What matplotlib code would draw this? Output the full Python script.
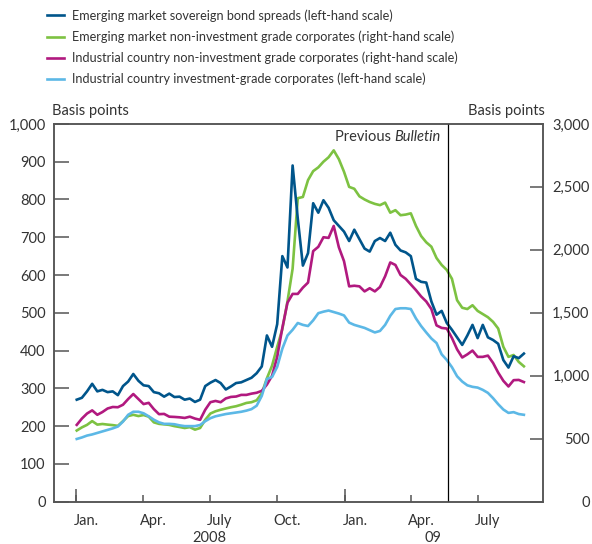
import numpy as np
import pandas as pd
import matplotlib
matplotlib.use("Agg")
import matplotlib.pyplot as plt
import matplotlib.dates as mdates
from matplotlib.ticker import FuncFormatter, MultipleLocator

plt.rcParams['font.family'] = ['Lato', 'DejaVu Sans']

# weekly observations, 2 Jan 2008 to 2 Sep 2009
dates = pd.date_range('2008-01-02', periods=88, freq='7D')

em_sovereign = [  # left-hand scale
    270, 275, 292, 312, 292, 296, 290, 292, 282, 306, 318, 338, 320, 308, 306, 290,
    287, 278, 286, 277, 278, 270, 273, 264, 270, 306, 315, 322, 314, 297, 305, 314,
    316, 322, 328, 340, 358, 440, 410, 470, 650, 620, 890, 750, 625, 658, 790, 765,
    798, 778, 745, 730, 715, 690, 720, 695, 670, 662, 690, 698, 690, 712, 680, 665,
    660, 650, 590, 582, 580, 530, 495, 505, 473, 455, 435, 415, 440, 468, 433, 468,
    435, 428, 418, 375, 355, 385, 380, 392]
em_nonig = [  # right-hand scale
    565, 590, 610, 640, 612, 617, 612, 608, 602, 640, 680, 690, 680, 688, 675, 630,
    618, 614, 610, 600, 593, 585, 592, 572, 585, 650, 700, 718, 730, 740, 750, 758,
    770, 784, 790, 805, 860, 980, 1080, 1230, 1370, 1590, 1850, 2410, 2420, 2554, 2625, 2655,
    2700, 2735, 2790, 2720, 2620, 2500, 2485, 2425, 2400, 2380, 2365, 2355, 2375, 2295, 2315, 2275,
    2280, 2290, 2190, 2110, 2060, 2025, 1935, 1880, 1840, 1770, 1600, 1540, 1530, 1560, 1515, 1490,
    1465, 1428, 1375, 1230, 1150, 1165, 1110, 1075]
ind_nonig = [  # right-hand scale
    610, 660, 700, 725, 690, 712, 740, 752, 750, 770, 815, 855, 815, 775, 785, 735,
    695, 697, 675, 673, 670, 665, 675, 660, 650, 730, 790, 800, 790, 820, 832, 835,
    848, 848, 858, 865, 880, 930, 1000, 1150, 1380, 1580, 1650, 1650, 1700, 1740, 1990, 2024,
    2100, 2095, 2190, 2020, 1910, 1710, 1715, 1710, 1670, 1695, 1670, 1705, 1790, 1900, 1880, 1800,
    1770, 1725, 1680, 1630, 1590, 1530, 1400, 1380, 1375, 1300, 1210, 1145, 1170, 1200, 1150, 1150,
    1160, 1102, 1025, 960, 915, 965, 967, 950]
ind_ig = [  # left-hand scale
    166, 170, 175, 178, 182, 186, 190, 194, 199, 212, 230, 238, 238, 234, 226, 217,
    210, 206, 206, 205, 202, 200, 200, 200, 203, 213, 221, 226, 229, 232, 234, 236,
    238, 241, 245, 254, 280, 325, 330, 357, 405, 440, 455, 473, 468, 465, 480, 499,
    503, 506, 502, 498, 493, 474, 468, 464, 460, 454, 448, 452, 468, 492, 510, 512,
    512, 510, 485, 465, 448, 432, 420, 390, 375, 356, 332, 318, 308, 304, 302, 296,
    288, 274, 258, 244, 235, 237, 232, 230]

labels = ['Emerging market sovereign bond spreads (left-hand scale)',
          'Emerging market non-investment grade corporates (right-hand scale)',
          'Industrial country non-investment grade corporates (right-hand scale)',
          'Industrial country investment-grade corporates (left-hand scale)']
colors = ['#00558B', '#7DC242', '#B1197F', '#5CB8E6']
prev_bulletin = pd.Timestamp('2009-05-22')

txt = '#333333'
spine = '#555555'
fs = 10.5

fig = plt.figure(figsize=(5.92, 5.44), dpi=100)
ax = fig.add_axes([0.0912, 0.0778, 0.8260, 0.6944])
ax2 = ax.twinx()
ax.set_zorder(ax2.get_zorder() + 1)
ax.patch.set_visible(False)

lw = 1.9
l_green, = ax2.plot(dates, em_nonig, color=colors[1], lw=lw)
l_mag, = ax2.plot(dates, ind_nonig, color=colors[2], lw=lw)
l_blue, = ax.plot(dates, em_sovereign, color=colors[0], lw=lw)
l_light, = ax.plot(dates, ind_ig, color=colors[3], lw=lw)
ax.axvline(prev_bulletin, color='black', lw=0.9)

ax.set_xlim(pd.Timestamp('2007-12-02'), pd.Timestamp('2009-09-28'))
ax.set_ylim(0, 1000)
ax2.set_ylim(0, 3000)

fmt = FuncFormatter(lambda v, p: f'{v:,.0f}')
ax.yaxis.set_major_locator(MultipleLocator(100))
ax.yaxis.set_major_formatter(fmt)
ax2.yaxis.set_major_locator(MultipleLocator(500))
ax2.yaxis.set_major_formatter(fmt)

for a in (ax, ax2):
    for s in a.spines.values():
        s.set_color(spine)
        s.set_linewidth(1.1)

ax.tick_params(axis='y', direction='in', length=11, width=1.1, color=spine,
               labelsize=fs, labelcolor=txt, pad=6)
ax2.tick_params(axis='y', direction='in', length=9.5, width=1.1, color=spine,
                labelsize=fs, labelcolor=txt, pad=33.5)
for lab in ax2.get_yticklabels():
    lab.set_horizontalalignment('right')

# quarter ticks (short), labels at mid-month, Jan ticks long
ax.xaxis.set_minor_locator(mdates.MonthLocator(bymonth=[1, 4, 7, 10], bymonthday=1))
ax.xaxis.set_major_locator(mdates.MonthLocator(bymonth=[1, 4, 7, 10], bymonthday=15))
ax.xaxis.set_major_formatter(FuncFormatter(
    lambda v, p: {1: 'Jan.', 4: 'Apr.', 7: 'July', 10: 'Oct.'}[mdates.num2date(v).month]))
ax.tick_params(axis='x', which='major', length=0, labelsize=fs, labelcolor=txt, pad=9)
ax.tick_params(axis='x', which='minor', direction='in', length=5, width=1.1, color=spine)
sec = ax.secondary_xaxis('bottom')
sec.set_xticks(mdates.date2num([pd.Timestamp('2008-01-01'), pd.Timestamp('2009-01-01')]))
sec.tick_params(direction='in', length=9.5, width=1.1, color=spine, labelbottom=False)
sec.spines['bottom'].set_visible(False)

ax.text(pd.Timestamp('2008-07-01'), -0.096, '2008', transform=ax.get_xaxis_transform(),
        ha='center', va='center', fontsize=fs, color=txt)
ax.text(pd.Timestamp('2009-05-01'), -0.096, '09', transform=ax.get_xaxis_transform(),
        ha='center', va='center', fontsize=fs, color=txt)

ax.text(-0.005, 1.015, 'Basis points', transform=ax.transAxes, ha='left', va='bottom',
        fontsize=fs, color=txt)
ax2.text(1.004, 1.015, 'Basis points', transform=ax.transAxes, ha='right', va='bottom',
         fontsize=fs, color=txt)

t = ax.text(prev_bulletin - pd.Timedelta(days=10), 0.985, 'Bulletin', style='italic',
            transform=ax.get_xaxis_transform(), ha='right', va='top', fontsize=fs, color=txt)
ax.annotate('Previous ', xy=(0, 0), xycoords=t, ha='right', va='bottom',
            fontsize=fs, color=txt)

fig.legend([l_blue, l_green, l_mag, l_light], labels, loc='upper left',
           bbox_to_anchor=(0.0794, 0.983), frameon=False, fontsize=9.1,
           handlelength=1.35, handletextpad=0.63, labelspacing=0.68, borderpad=0,
           borderaxespad=0, labelcolor=txt)

fig.savefig('out.png', dpi=100)
